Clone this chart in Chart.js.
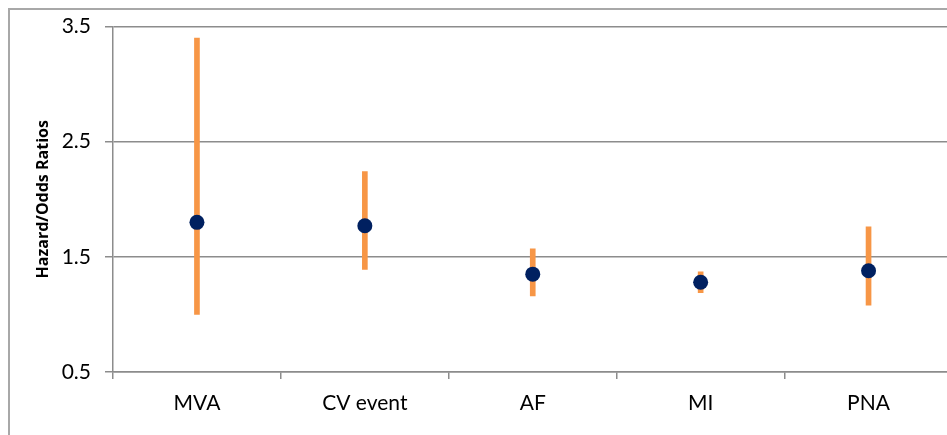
<!DOCTYPE html>
<html>
<head>
<meta charset="utf-8">
<script src="https://cdn.jsdelivr.net/npm/chart.js@4/dist/chart.umd.min.js"></script>
<style>
  html, body { margin: 0; padding: 0; background: #fff; overflow: hidden; }
  #frame {
    position: absolute; left: 8px; top: 8px; width: 2000px; height: 2000px;
    border-left: 2px solid #a8a8a8; border-top: 2px solid #a8a8a8;
  }
  #wrap { position: absolute; left: 0; top: 0; width: 960px; height: 435px; }
</style>
</head>
<body>
<div id="frame"></div>
<div id="wrap"><canvas id="chart" width="960" height="435"></canvas></div>
<script>
const categories = ["MVA", "CV event", "AF", "MI", "PNA"];
const ratios = [1.80, 1.77, 1.35, 1.28, 1.38];
const lower = [1.00, 1.39, 1.16, 1.19, 1.08];
const upper = [3.40, 2.24, 1.57, 1.37, 1.76];
const yTicks = [0.5, 1.5, 2.5, 3.5];

const ctx = document.getElementById("chart");

const ranges = lower.map((lo, i) => [lo, upper[i]]);

new Chart(ctx, {
  type: "bar",
  data: {
    labels: categories,
    datasets: [
      {
        type: "line",
        label: "Ratio",
        data: ratios,
        showLine: false,
        pointRadius: 7.5,
        pointHoverRadius: 7.5,
        pointBackgroundColor: "#002060",
        pointBorderColor: "#002060",
        pointBorderWidth: 0,
        order: 0,
      },
      {
        label: "95% CI",
        data: ranges,
        backgroundColor: "#F79646",
        borderWidth: 0,
        barThickness: 5,
        borderSkipped: false,
        order: 1,
      },
    ],
  },
  options: {
    responsive: false,
    animation: false,
    layout: { padding: { top: 21, right: 5, left: 0, bottom: 0 } },
    plugins: {
      legend: { display: false },
      tooltip: { enabled: false },
    },
    scales: {
      x: {
        offset: true,
        grid: {
          offset: true,
          drawOnChartArea: false,
          color: "#8c8c8c",
          lineWidth: 1.5,
          tickLength: 7,
        },
        border: { color: "#8c8c8c", width: 1.5 },
        ticks: {
          color: "#000",
          font: { family: "Lato", size: 21 },
          padding: 12,
        },
        afterFit: (scale) => { scale.height = 63; },
      },
      y: {
        min: 0.5,
        max: 3.5,
        afterBuildTicks: (scale) => {
          scale.ticks = yTicks.map((v) => ({ value: v }));
        },
        grid: {
          color: "#8c8c8c",
          lineWidth: 1.5,
          tickLength: 8,
        },
        border: { color: "#8c8c8c", width: 1.5 },
        ticks: {
          color: "#000",
          font: { family: "Lato", size: 21 },
          padding: 14,
          callback: (v) => v.toFixed(1),
        },
        title: {
          display: true,
          text: "Hazard/Odds Ratios",
          color: "#000",
          font: { family: "Open Sans", size: 16, weight: "bold" },
          padding: { top: 34, bottom: 0 },
        },
        afterFit: (scale) => { scale.width = 113; },
      },
    },
  },
});
</script>
</body>
</html>
